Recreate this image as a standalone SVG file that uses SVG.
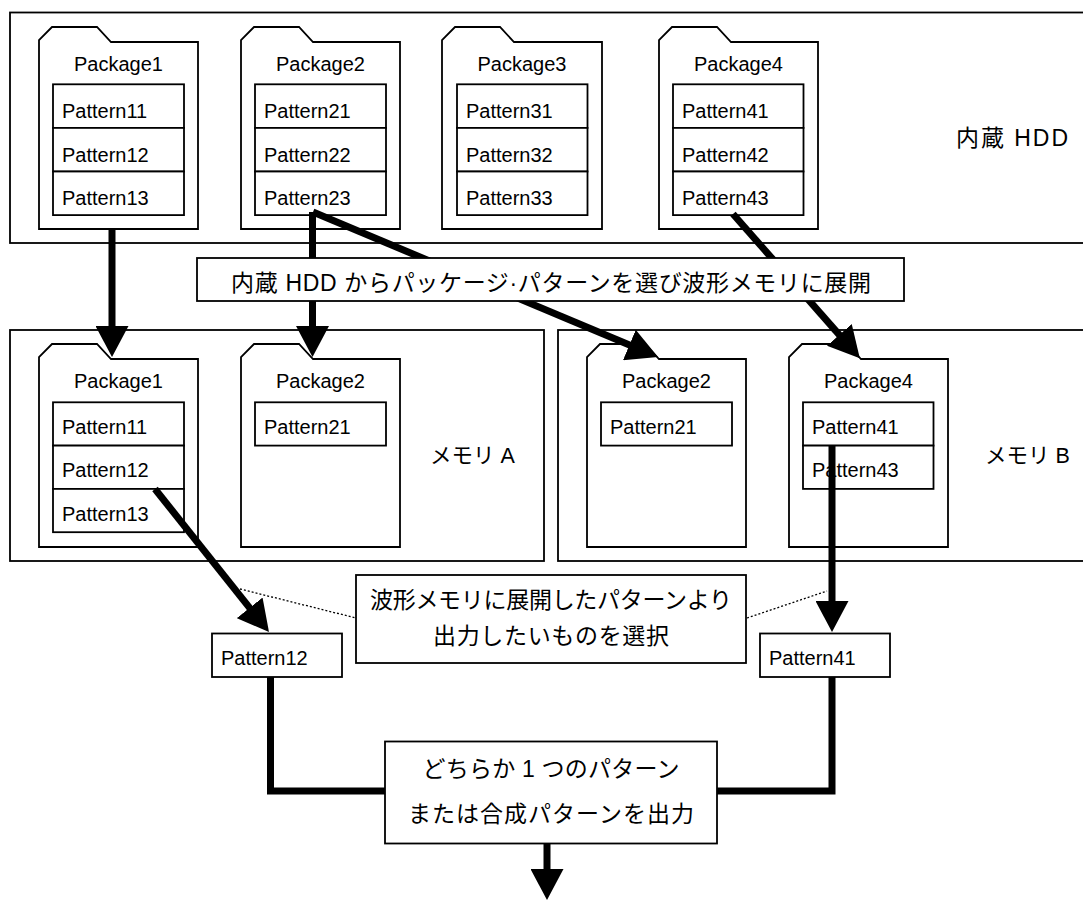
<svg xmlns="http://www.w3.org/2000/svg" width="1083" height="902" viewBox="0 0 1083 902">
  <style>
    .frame { fill: #fff; stroke: #000; stroke-width: 1.8; }
    .pkg { fill: #fff; stroke: #000; stroke-width: 1.8; stroke-linejoin: miter; }
    .cell { fill: #fff; stroke: #000; stroke-width: 1.8; }
    .lat { font-family: "Liberation Sans", Arial, sans-serif; font-size: 20px; fill: #000; }
    .jp { font-family: "Liberation Sans", "Noto Sans CJK JP", sans-serif; font-size: 23px; fill: #000; dominant-baseline: central; }
    .mem { font-size: 21.5px; }
    .mid { text-anchor: middle; }
    .flow { fill: none; stroke: #000; stroke-width: 7; stroke-linecap: butt; stroke-linejoin: miter; }
    .arrow { marker-end: url(#head); }
    .hint { fill: none; stroke: #000; stroke-width: 1.3; stroke-dasharray: 2 2; }
  </style>
  <defs>
    <marker id="head" viewBox="0 0 31 33" markerWidth="31" markerHeight="33" markerUnits="userSpaceOnUse" refX="6" refY="16.5" orient="auto">
      <path d="M0,0 L31,16.5 L0,33 Z" fill="#000"/>
    </marker>
  </defs>

  <rect width="1083" height="902" fill="#fff"/>

  <!-- built-in drive -->
  <g id="hdd">
    <rect class="frame" x="10" y="12.5" width="1085" height="230.5"/>
    <text class="jp" x="956" y="138" textLength="112" lengthAdjust="spacing">内蔵 HDD</text>
  </g>

  <g id="hdd-package1">
    <path class="pkg" d="M39,229 V40 L52,27 H97 L111,42 H198 V229 Z"/>
    <text class="lat mid" x="118.5" y="71">Package1</text>
    <rect class="cell" x="53" y="84.3" width="131" height="43.6"/>
    <rect class="cell" x="53" y="127.9" width="131" height="43.6"/>
    <rect class="cell" x="53" y="171.5" width="131" height="43.6"/>
    <text class="lat" x="62" y="118">Pattern11</text>
    <text class="lat" x="62" y="161.6">Pattern12</text>
    <text class="lat" x="62" y="205.2">Pattern13</text>
  </g>

  <g id="hdd-package2">
    <path class="pkg" d="M241,229 V40 L254,27 H299 L313,42 H400 V229 Z"/>
    <text class="lat mid" x="320.5" y="71">Package2</text>
    <rect class="cell" x="255" y="84.3" width="131" height="43.6"/>
    <rect class="cell" x="255" y="127.9" width="131" height="43.6"/>
    <rect class="cell" x="255" y="171.5" width="131" height="43.6"/>
    <text class="lat" x="264" y="118">Pattern21</text>
    <text class="lat" x="264" y="161.6">Pattern22</text>
    <text class="lat" x="264" y="205.2">Pattern23</text>
  </g>

  <g id="hdd-package3">
    <path class="pkg" d="M442,229 V40 L455,27 H500 L514,42 H602 V229 Z"/>
    <text class="lat mid" x="522" y="71">Package3</text>
    <rect class="cell" x="457" y="84.3" width="130.5" height="43.6"/>
    <rect class="cell" x="457" y="127.9" width="130.5" height="43.6"/>
    <rect class="cell" x="457" y="171.5" width="130.5" height="43.6"/>
    <text class="lat" x="466" y="118">Pattern31</text>
    <text class="lat" x="466" y="161.6">Pattern32</text>
    <text class="lat" x="466" y="205.2">Pattern33</text>
  </g>

  <g id="hdd-package4">
    <path class="pkg" d="M659,229 V40 L672,27 H717 L731,42 H818 V229 Z"/>
    <text class="lat mid" x="738.5" y="71">Package4</text>
    <rect class="cell" x="673" y="84.3" width="130.5" height="43.6"/>
    <rect class="cell" x="673" y="127.9" width="130.5" height="43.6"/>
    <rect class="cell" x="673" y="171.5" width="130.5" height="43.6"/>
    <text class="lat" x="682" y="118">Pattern41</text>
    <text class="lat" x="682" y="161.6">Pattern42</text>
    <text class="lat" x="682" y="205.2">Pattern43</text>
  </g>

  <!-- waveform memories -->
  <g id="memory-a">
    <rect class="frame" x="10" y="330" width="534" height="231"/>
    <text class="jp mem" x="430" y="456">メモリ A</text>
  </g>

  <g id="memory-b">
    <rect class="frame" x="558" y="330" width="537" height="231"/>
    <text class="jp mem" x="985" y="456">メモリ B</text>
  </g>

  <g id="mem-a-package1">
    <path class="pkg" d="M39,547 V357 L52,344 H97 L111,359 H198 V547 Z"/>
    <text class="lat mid" x="118.5" y="388">Package1</text>
    <rect class="cell" x="53" y="402.3" width="131" height="43.3"/>
    <rect class="cell" x="53" y="445.6" width="131" height="43.3"/>
    <rect class="cell" x="53" y="488.9" width="131" height="43.3"/>
    <text class="lat" x="62" y="434">Pattern11</text>
    <text class="lat" x="62" y="477.3">Pattern12</text>
    <text class="lat" x="62" y="520.6">Pattern13</text>
  </g>

  <g id="mem-a-package2">
    <path class="pkg" d="M241,547 V357 L254,344 H299 L313,359 H400 V547 Z"/>
    <text class="lat mid" x="320.5" y="388">Package2</text>
    <rect class="cell" x="255" y="402.3" width="131" height="43.3"/>
    <text class="lat" x="264" y="434">Pattern21</text>
  </g>

  <g id="mem-b-package2">
    <path class="pkg" d="M587,547 V357 L600,344 H645 L659,359 H746 V547 Z"/>
    <text class="lat mid" x="666.5" y="388">Package2</text>
    <rect class="cell" x="601" y="402.3" width="131" height="43.3"/>
    <text class="lat" x="610" y="434">Pattern21</text>
  </g>

  <g id="mem-b-package4">
    <path class="pkg" d="M789,547 V357 L802,344 H847 L861,359 H948 V547 Z"/>
    <text class="lat mid" x="868.5" y="388">Package4</text>
    <rect class="cell" x="803" y="402.3" width="130.5" height="43.3"/>
    <rect class="cell" x="803" y="445.6" width="130.5" height="43.3"/>
    <text class="lat" x="812" y="434">Pattern41</text>
    <text class="lat" x="812" y="477.3">Pattern43</text>
  </g>

  <!-- selected patterns -->
  <g id="out-pattern12">
    <rect class="cell" x="212" y="633.5" width="130" height="43.5"/>
    <text class="lat" x="221" y="665">Pattern12</text>
  </g>

  <g id="out-pattern41">
    <rect class="cell" x="760" y="633.5" width="130" height="43.5"/>
    <text class="lat" x="769" y="665">Pattern41</text>
  </g>

  <!-- connectors -->
  <g id="connectors">
    <line class="flow arrow" x1="112" y1="229" x2="112" y2="332"/>
    <line class="flow arrow" x1="312.5" y1="212" x2="312.5" y2="332"/>
    <line class="flow arrow" x1="313" y1="212" x2="634.9" y2="347.3"/>
    <line class="flow arrow" x1="733" y1="214" x2="843.3" y2="339.4"/>
    <line class="flow arrow" x1="155" y1="489" x2="253.4" y2="612.5"/>
    <line class="flow arrow" x1="832" y1="446" x2="832" y2="607"/>
    <polyline class="flow" points="270.5,677 270.5,791 385,791"/>
    <polyline class="flow" points="832,677 832,791 717,791"/>
    <line class="flow arrow" x1="547" y1="843" x2="547" y2="875"/>
    <line class="hint" x1="240" y1="589" x2="356" y2="618"/>
    <line class="hint" x1="747" y1="618" x2="827" y2="591"/>
  </g>

  <!-- captions -->
  <g id="load-caption">
    <rect class="frame" x="197" y="258" width="707" height="43"/>
    <text class="jp mid" x="551" y="283" textLength="640" lengthAdjust="spacing">内蔵 HDD からパッケージ·パターンを選び波形メモリに展開</text>
  </g>

  <g id="select-caption">
    <rect class="frame" x="356" y="575" width="390" height="88"/>
    <text class="jp mid" x="551" y="600" textLength="362" lengthAdjust="spacing">波形メモリに展開したパターンより</text>
    <text class="jp mid" x="551" y="636" textLength="236" lengthAdjust="spacing">出力したいものを選択</text>
  </g>

  <g id="output-caption">
    <rect class="frame" x="385" y="741.5" width="332" height="102"/>
    <text class="jp mid" x="551" y="769" textLength="257" lengthAdjust="spacing">どちらか 1 つのパターン</text>
    <text class="jp mid" x="551" y="814" textLength="286" lengthAdjust="spacing">または合成パターンを出力</text>
  </g>
</svg>
